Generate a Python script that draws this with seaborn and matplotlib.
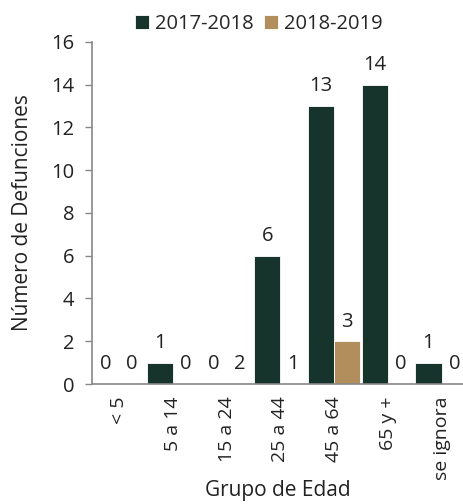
import pandas as pd
import seaborn as sns
from matplotlib import pyplot as plt

# datos
grupos = ["< 5", "5 a 14", "15 a 24", "25 a 44", "45 a 64", "65 y +", "se ignora"]
temporadas = ["2017-2018", "2018-2019"]
def_2017 = [0, 1, 0, 6, 13, 14, 1]
def_2018 = [0, 0, 0, 0, 2, 0, 0]
# etiquetas tal como aparecen en la figura original
etiq_2017 = ["0", "1", "0", "6", "13", "14", "1"]
etiq_2018 = ["0", "0", "2", "1", "3", "0", "0"]

df = pd.DataFrame({
    "grupo": grupos * 2,
    "temporada": [temporadas[0]] * len(grupos) + [temporadas[1]] * len(grupos),
    "defunciones": def_2017 + def_2018,
})

sns.set_style("white")
plt.rcParams["font.family"] = ["Open Sans", "DejaVu Sans"]
fs = 14.5

fig = plt.figure(figsize=(4.63, 5.04), dpi=100)
ax = fig.add_axes([0.199, 0.238, 0.801, 0.679])

sns.barplot(data=df, x="grupo", y="defunciones", hue="temporada", order=grupos,
            hue_order=temporadas, palette=["#17342c", "#b38e5d"], width=0.97,
            edgecolor="white", linewidth=0.6, saturation=1, ax=ax)

for cont, etiq in zip(ax.containers, [etiq_2017, etiq_2018]):
    ax.bar_label(cont, labels=etiq, padding=7, fontsize=fs, color="#222222")

ax.set_ylim(0, 16)
ax.set_yticks(range(0, 17, 2))
ax.set_xlim(-0.5, 6.4)
ax.set_xlabel("Grupo de Edad", fontsize=fs + 0.5, color="#222222", labelpad=0)
ax.set_ylabel("Número de Defunciones", fontsize=fs + 0.5, color="#222222", labelpad=13)
ax.tick_params(axis="y", which="major", direction="out", length=5, width=1,
               color="#888888", labelsize=fs, labelcolor="#222222", left=True, pad=8)
ax.tick_params(axis="x", length=0, labelsize=14, labelcolor="#222222", rotation=90, pad=9)

for s in ["top", "right"]:
    ax.spines[s].set_visible(False)
for s in ["left", "bottom"]:
    ax.spines[s].set_color("#888888")
    ax.spines[s].set_linewidth(1.2)

ax.legend(loc="lower center", bbox_to_anchor=(0.45, 1.0), ncol=2, frameon=False,
          handlelength=0.7, handleheight=0.7, handletextpad=0.3, columnspacing=0.5,
          fontsize=fs, borderaxespad=0)

fig.savefig("out.png", dpi=100)
